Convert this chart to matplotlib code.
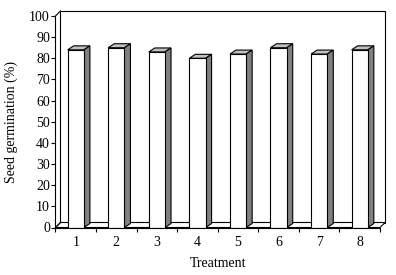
import matplotlib
matplotlib.use("Agg")
import matplotlib.pyplot as plt
from matplotlib.patches import Polygon, Rectangle
from matplotlib.lines import Line2D

treatments = ["1", "2", "3", "4", "5", "6", "7", "8"]
germination = [84, 85, 83, 80, 82, 85, 82, 84]
yticks = [0, 10, 20, 30, 40, 50, 60, 70, 80, 90, 100]

plt.rcParams['font.family'] = ['Liberation Serif', 'DejaVu Serif']
plt.rcParams['font.size'] = 10

W, H = 396, 275
fig = plt.figure(figsize=(W / 100, H / 100), dpi=100)
left, right, bottom, top = 55.5, 380.0, 47.5, 259.0
ax = fig.add_axes([left / W, bottom / H, (right - left) / W, (top - bottom) / H])
n = len(treatments)
ax.set_xlim(0, n)
ax.set_ylim(0, 100)

pxx = (right - left) / n      # pixels per category
pxy = (top - bottom) / 100.0  # pixels per unit
# wall depth offset
wdx, wdy = 5 / pxx, 5 / pxy
# bar depth offset
bdx, bdy = 6 / pxx, 4 / pxy

# back wall
ax.add_patch(Rectangle((wdx, wdy), n, 100, facecolor='white', edgecolor='black',
                       linewidth=0.8, clip_on=False, zorder=1))
# floor
ax.add_patch(Polygon([(0, 0), (n, 0), (n + wdx, wdy), (wdx, wdy)], closed=True,
                     facecolor='white', edgecolor='black', linewidth=0.8,
                     clip_on=False, zorder=1.5))
# left wall edges
ax.add_line(Line2D([0, wdx], [100, 100 + wdy], color='black', lw=0.8, clip_on=False, zorder=2))
ax.add_line(Line2D([0, wdx], [0, wdy], color='black', lw=0.8, clip_on=False, zorder=2))

bw = 0.40
centers = [i + 0.5 for i in range(n)]
bars = ax.bar(centers, germination, width=bw, color='white', edgecolor='black',
              linewidth=0.8, zorder=4)
for c, v in zip(centers, germination):
    x0, x1 = c - bw / 2, c + bw / 2
    ax.add_patch(Polygon([(x0, v), (x1, v), (x1 + bdx, v + bdy), (x0 + bdx, v + bdy)],
                         closed=True, facecolor='#c0c0c0', edgecolor='black',
                         linewidth=0.8, zorder=3, clip_on=False))
    ax.add_patch(Polygon([(x1, 0), (x1 + bdx, bdy), (x1 + bdx, v + bdy), (x1, v)],
                         closed=True, facecolor='#808080', edgecolor='black',
                         linewidth=0.8, zorder=3, clip_on=False))

ax.set_yticks(yticks)
ax.set_xticks(range(n + 1))
ax.set_xticklabels([])
ax.set_xticks(centers, minor=True)
ax.set_xticklabels(treatments, minor=True)
ax.tick_params(axis='x', which='major', direction='out', length=3, width=0.8)
ax.tick_params(axis='x', which='minor', length=0, pad=6)
ax.tick_params(axis='y', direction='out', length=3, width=0.8, pad=1)

for s in ['top', 'right']:
    ax.spines[s].set_visible(False)
for s in ['left', 'bottom']:
    ax.spines[s].set_linewidth(0.8)
    ax.spines[s].set_zorder(5)
ax.patch.set_visible(False)

ax.set_xlabel("Treatment", labelpad=6)
ax.set_ylabel("Seed germination (%)", labelpad=8)

fig.savefig("out.png", dpi=100, facecolor='white')
